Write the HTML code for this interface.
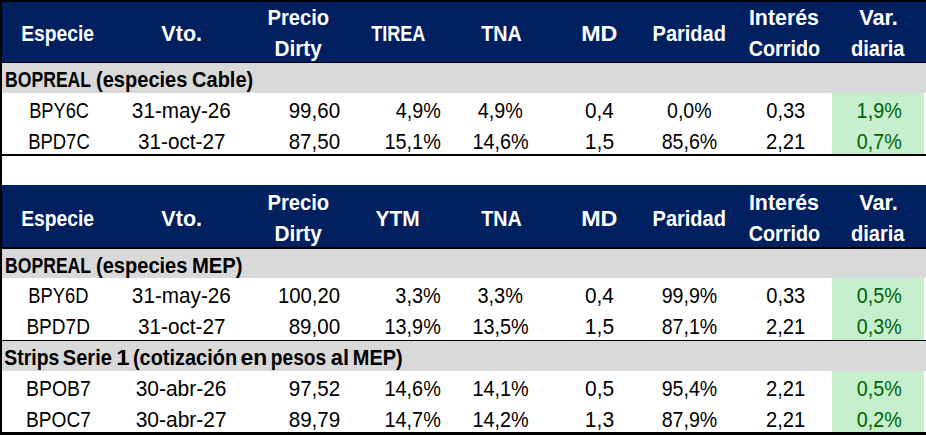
<!DOCTYPE html>
<html><head><meta charset="utf-8"><title>Tabla</title><style>
html,body{margin:0;padding:0;background:#fff}
body{width:926px;height:435px;position:relative;overflow:hidden}
.r{position:absolute}
.t{position:absolute;font-family:"Liberation Sans",sans-serif;font-size:22.0px;line-height:1;white-space:nowrap;transform-origin:0 0}
.b{font-weight:bold}
</style></head><body>
<div class="r" style="left:0px;top:0px;width:926px;height:62px;background:#002060"></div>
<div class="r" style="left:0px;top:63px;width:926px;height:30px;background:#d9d9d9"></div>
<div class="r" style="left:832px;top:93px;width:92px;height:61px;background:#c6efce"></div>
<div class="r" style="left:0px;top:185px;width:926px;height:62px;background:#002060"></div>
<div class="r" style="left:0px;top:249px;width:926px;height:29px;background:#d9d9d9"></div>
<div class="r" style="left:832px;top:278px;width:92px;height:62px;background:#c6efce"></div>
<div class="r" style="left:0px;top:341px;width:926px;height:30px;background:#d9d9d9"></div>
<div class="r" style="left:832px;top:371px;width:92px;height:61px;background:#c6efce"></div>
<div class="r" style="left:0px;top:0px;width:926px;height:2px;background:#000"></div>
<div class="r" style="left:0px;top:62px;width:926px;height:1px;background:#000"></div>
<div class="r" style="left:0px;top:154px;width:926px;height:2px;background:#000"></div>
<div class="r" style="left:0px;top:247px;width:926px;height:2px;background:#000"></div>
<div class="r" style="left:0px;top:340px;width:926px;height:1px;background:#000"></div>
<div class="r" style="left:0px;top:432px;width:926px;height:3px;background:#000"></div>
<div class="r" style="left:0px;top:0px;width:2px;height:435px;background:#000"></div>
<div class="t b" style="left:0;top:23px;color:#fff;transform:translateX(21.19px) scaleX(0.8765)">Especie</div>
<div class="t b" style="left:0;top:23px;color:#fff;transform:translateX(161.36px) scaleX(0.9786)">Vto.</div>
<div class="t b" style="left:0;top:7px;color:#fff;transform:translateX(267.42px) scaleX(0.9185)">Precio</div>
<div class="t b" style="left:0;top:38px;color:#fff;transform:translateX(274.48px) scaleX(0.9443)">Dirty</div>
<div class="t b" style="left:0;top:23px;color:#fff;transform:translateX(371.19px) scaleX(0.8215)">TIREA</div>
<div class="t b" style="left:0;top:23px;color:#fff;transform:translateX(481.28px) scaleX(0.8949)">TNA</div>
<div class="t b" style="left:0;top:23px;color:#fff;transform:translateX(581.21px) scaleX(1.0583)">MD</div>
<div class="t b" style="left:0;top:23px;color:#fff;transform:translateX(652.54px) scaleX(0.9093)">Paridad</div>
<div class="t b" style="left:0;top:7px;color:#fff;transform:translateX(748.94px) scaleX(0.9706)">Interés</div>
<div class="t b" style="left:0;top:38px;color:#fff;transform:translateX(748.70px) scaleX(0.8994)">Corrido</div>
<div class="t b" style="left:0;top:7px;color:#fff;transform:translateX(859.15px) scaleX(0.9893)">Var.</div>
<div class="t b" style="left:0;top:38px;color:#fff;transform:translateX(850.99px) scaleX(0.9108)">diaria</div>
<div class="t b" style="left:0;top:208px;color:#fff;transform:translateX(21.19px) scaleX(0.8765)">Especie</div>
<div class="t b" style="left:0;top:208px;color:#fff;transform:translateX(161.36px) scaleX(0.9786)">Vto.</div>
<div class="t b" style="left:0;top:192px;color:#fff;transform:translateX(267.42px) scaleX(0.9185)">Precio</div>
<div class="t b" style="left:0;top:223px;color:#fff;transform:translateX(274.48px) scaleX(0.9443)">Dirty</div>
<div class="t b" style="left:0;top:208px;color:#fff;transform:translateX(375.52px) scaleX(0.9506)">YTM</div>
<div class="t b" style="left:0;top:208px;color:#fff;transform:translateX(481.28px) scaleX(0.8949)">TNA</div>
<div class="t b" style="left:0;top:208px;color:#fff;transform:translateX(581.21px) scaleX(1.0583)">MD</div>
<div class="t b" style="left:0;top:208px;color:#fff;transform:translateX(652.54px) scaleX(0.9093)">Paridad</div>
<div class="t b" style="left:0;top:192px;color:#fff;transform:translateX(748.94px) scaleX(0.9706)">Interés</div>
<div class="t b" style="left:0;top:223px;color:#fff;transform:translateX(748.70px) scaleX(0.8994)">Corrido</div>
<div class="t b" style="left:0;top:192px;color:#fff;transform:translateX(859.15px) scaleX(0.9893)">Var.</div>
<div class="t b" style="left:0;top:223px;color:#fff;transform:translateX(850.99px) scaleX(0.9108)">diaria</div>
<div class="t b" style="left:0;top:69px;color:#000;transform:translateX(5.10px) scaleX(0.7991)">BOPREAL</div>
<div class="t b" style="left:0;top:69px;color:#000;transform:translateX(95.99px) scaleX(0.9117)">(especies</div>
<div class="t b" style="left:0;top:69px;color:#000;transform:translateX(192.09px) scaleX(0.9088)">Cable)</div>
<div class="t b" style="left:0;top:255px;color:#000;transform:translateX(5.10px) scaleX(0.7991)">BOPREAL</div>
<div class="t b" style="left:0;top:255px;color:#000;transform:translateX(95.99px) scaleX(0.9117)">(especies</div>
<div class="t b" style="left:0;top:255px;color:#000;transform:translateX(191.92px) scaleX(0.9219)">MEP)</div>
<div class="t b" style="left:0;top:347px;color:#000;transform:translateX(4.34px) scaleX(0.8807)">Strips</div>
<div class="t b" style="left:0;top:347px;color:#000;transform:translateX(62.82px) scaleX(0.9110)">Serie</div>
<div class="t b" style="left:0;top:347px;color:#000;transform:translateX(116.27px) scaleX(1.0900)">1</div>
<div class="t b" style="left:0;top:347px;color:#000;transform:translateX(132.89px) scaleX(0.9067)">(cotización</div>
<div class="t b" style="left:0;top:347px;color:#000;transform:translateX(240.52px) scaleX(1.0426)">en</div>
<div class="t b" style="left:0;top:347px;color:#000;transform:translateX(270.79px) scaleX(0.8702)">pesos</div>
<div class="t b" style="left:0;top:347px;color:#000;transform:translateX(330.75px) scaleX(0.9937)">al</div>
<div class="t b" style="left:0;top:347px;color:#000;transform:translateX(352.84px) scaleX(0.9067)">MEP)</div>
<div class="t n" style="left:0;top:100px;color:#000;transform:translateX(29.15px) scaleX(0.8288)">BPY6C</div>
<div class="t n" style="left:0;top:100px;color:#000;transform:translateX(131.86px) scaleX(0.9414)">31-may-26</div>
<div class="t n" style="left:0;top:100px;color:#000;transform:translateX(288.67px) scaleX(0.9333)">99,60</div>
<div class="t n" style="left:0;top:100px;color:#000;transform:translateX(395.75px) scaleX(0.8985)">4,9%</div>
<div class="t n" style="left:0;top:100px;color:#000;transform:translateX(477.85px) scaleX(0.8985)">4,9%</div>
<div class="t n" style="left:0;top:100px;color:#000;transform:translateX(584.99px) scaleX(0.9436)">0,4</div>
<div class="t n" style="left:0;top:100px;color:#000;transform:translateX(667.03px) scaleX(0.8887)">0,0%</div>
<div class="t n" style="left:0;top:100px;color:#000;transform:translateX(766.22px) scaleX(0.9122)">0,33</div>
<div class="t n" style="left:0;top:100px;color:#006100;transform:translateX(856.62px) scaleX(0.9011)">1,9%</div>
<div class="t n" style="left:0;top:131px;color:#000;transform:translateX(28.13px) scaleX(0.8396)">BPD7C</div>
<div class="t n" style="left:0;top:131px;color:#000;transform:translateX(138.06px) scaleX(0.9399)">31-oct-27</div>
<div class="t n" style="left:0;top:131px;color:#000;transform:translateX(288.67px) scaleX(0.9333)">87,50</div>
<div class="t n" style="left:0;top:131px;color:#000;transform:translateX(384.52px) scaleX(0.9021)">15,1%</div>
<div class="t n" style="left:0;top:131px;color:#000;transform:translateX(472.42px) scaleX(0.9021)">14,6%</div>
<div class="t n" style="left:0;top:131px;color:#000;transform:translateX(584.83px) scaleX(0.9571)">1,5</div>
<div class="t n" style="left:0;top:131px;color:#000;transform:translateX(661.71px) scaleX(0.8909)">85,6%</div>
<div class="t n" style="left:0;top:131px;color:#000;transform:translateX(765.98px) scaleX(0.9178)">2,21</div>
<div class="t n" style="left:0;top:131px;color:#006100;transform:translateX(856.83px) scaleX(0.8969)">0,7%</div>
<div class="t n" style="left:0;top:285px;color:#000;transform:translateX(28.34px) scaleX(0.8347)">BPY6D</div>
<div class="t n" style="left:0;top:285px;color:#000;transform:translateX(131.86px) scaleX(0.9414)">31-may-26</div>
<div class="t n" style="left:0;top:285px;color:#000;transform:translateX(277.99px) scaleX(0.9220)">100,20</div>
<div class="t n" style="left:0;top:285px;color:#000;transform:translateX(395.29px) scaleX(0.9078)">3,3%</div>
<div class="t n" style="left:0;top:285px;color:#000;transform:translateX(477.39px) scaleX(0.9078)">3,3%</div>
<div class="t n" style="left:0;top:285px;color:#000;transform:translateX(584.99px) scaleX(0.9436)">0,4</div>
<div class="t n" style="left:0;top:285px;color:#000;transform:translateX(661.71px) scaleX(0.8909)">99,9%</div>
<div class="t n" style="left:0;top:285px;color:#000;transform:translateX(766.22px) scaleX(0.9122)">0,33</div>
<div class="t n" style="left:0;top:285px;color:#006100;transform:translateX(856.83px) scaleX(0.8969)">0,5%</div>
<div class="t n" style="left:0;top:316px;color:#000;transform:translateX(26.38px) scaleX(0.8667)">BPD7D</div>
<div class="t n" style="left:0;top:316px;color:#000;transform:translateX(138.06px) scaleX(0.9399)">31-oct-27</div>
<div class="t n" style="left:0;top:316px;color:#000;transform:translateX(288.67px) scaleX(0.9333)">89,00</div>
<div class="t n" style="left:0;top:316px;color:#000;transform:translateX(384.52px) scaleX(0.9021)">13,9%</div>
<div class="t n" style="left:0;top:316px;color:#000;transform:translateX(472.42px) scaleX(0.9021)">13,5%</div>
<div class="t n" style="left:0;top:316px;color:#000;transform:translateX(584.83px) scaleX(0.9571)">1,5</div>
<div class="t n" style="left:0;top:316px;color:#000;transform:translateX(661.71px) scaleX(0.8909)">87,1%</div>
<div class="t n" style="left:0;top:316px;color:#000;transform:translateX(765.98px) scaleX(0.9178)">2,21</div>
<div class="t n" style="left:0;top:316px;color:#006100;transform:translateX(856.83px) scaleX(0.8969)">0,3%</div>
<div class="t n" style="left:0;top:378px;color:#000;transform:translateX(26.05px) scaleX(0.8837)">BPOB7</div>
<div class="t n" style="left:0;top:378px;color:#000;transform:translateX(135.65px) scaleX(0.9519)">30-abr-26</div>
<div class="t n" style="left:0;top:378px;color:#000;transform:translateX(288.66px) scaleX(0.9377)">97,52</div>
<div class="t n" style="left:0;top:378px;color:#000;transform:translateX(384.52px) scaleX(0.9021)">14,6%</div>
<div class="t n" style="left:0;top:378px;color:#000;transform:translateX(472.42px) scaleX(0.9021)">14,1%</div>
<div class="t n" style="left:0;top:378px;color:#000;transform:translateX(584.99px) scaleX(0.9517)">0,5</div>
<div class="t n" style="left:0;top:378px;color:#000;transform:translateX(661.71px) scaleX(0.8909)">95,4%</div>
<div class="t n" style="left:0;top:378px;color:#000;transform:translateX(765.98px) scaleX(0.9178)">2,21</div>
<div class="t n" style="left:0;top:378px;color:#006100;transform:translateX(856.83px) scaleX(0.8969)">0,5%</div>
<div class="t n" style="left:0;top:409px;color:#000;transform:translateX(26.08px) scaleX(0.8683)">BPOC7</div>
<div class="t n" style="left:0;top:409px;color:#000;transform:translateX(135.65px) scaleX(0.9544)">30-abr-27</div>
<div class="t n" style="left:0;top:409px;color:#000;transform:translateX(288.66px) scaleX(0.9377)">89,79</div>
<div class="t n" style="left:0;top:409px;color:#000;transform:translateX(384.52px) scaleX(0.9021)">14,7%</div>
<div class="t n" style="left:0;top:409px;color:#000;transform:translateX(472.42px) scaleX(0.9021)">14,2%</div>
<div class="t n" style="left:0;top:409px;color:#000;transform:translateX(584.83px) scaleX(0.9571)">1,3</div>
<div class="t n" style="left:0;top:409px;color:#000;transform:translateX(661.71px) scaleX(0.8909)">87,9%</div>
<div class="t n" style="left:0;top:409px;color:#000;transform:translateX(765.98px) scaleX(0.9178)">2,21</div>
<div class="t n" style="left:0;top:409px;color:#006100;transform:translateX(856.83px) scaleX(0.8969)">0,2%</div>
</body></html>
